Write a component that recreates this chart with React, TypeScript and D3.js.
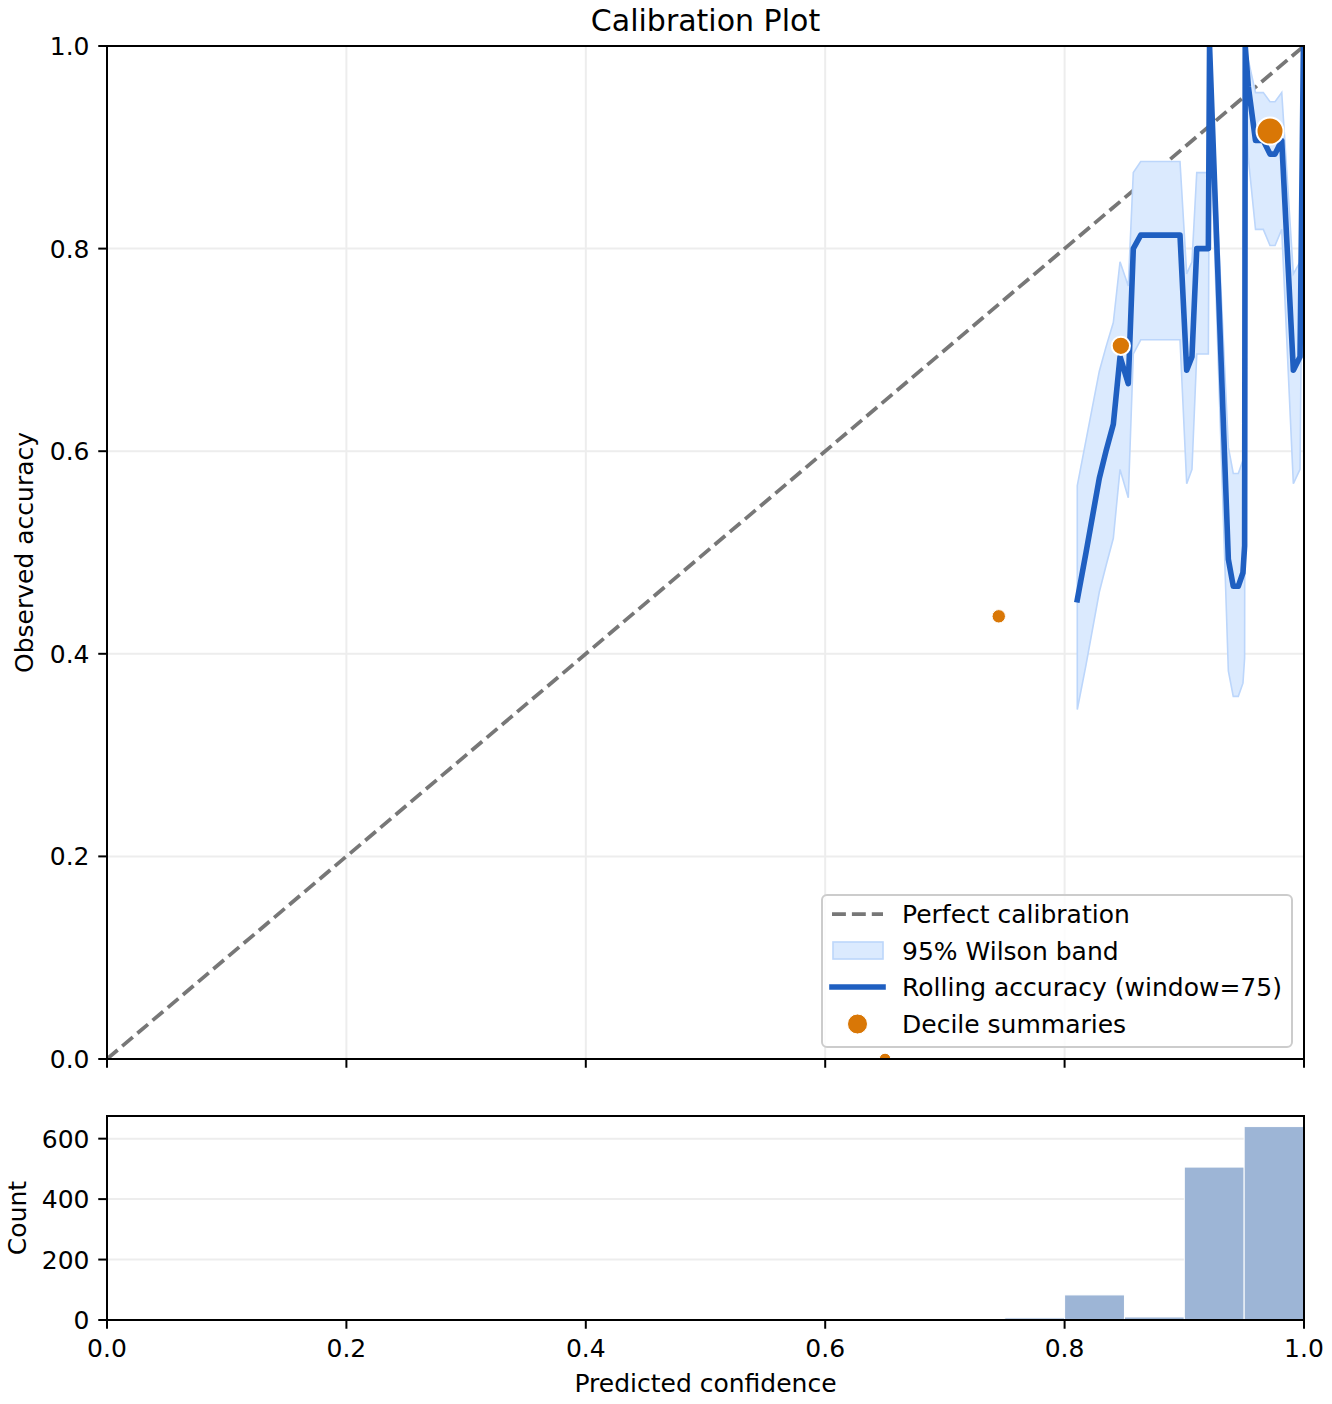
import React from "react";
import * as d3 from "d3";

// ---- data ----
const rollX = [0.8106, 0.8179, 0.829, 0.8346, 0.8407, 0.8463, 0.8532, 0.8574, 0.8636, 0.8964, 0.902, 0.9064, 0.9104, 0.9201, 0.9211, 0.9368, 0.9409, 0.9451, 0.949, 0.9504, 0.9509, 0.9535, 0.9595, 0.966, 0.9716, 0.9758, 0.9814, 0.9911, 0.9967, 0.9995];
const rollAcc = [0.4533, 0.5, 0.5733, 0.6, 0.6267, 0.6933, 0.6667, 0.8, 0.8133, 0.8133, 0.68, 0.6933, 0.8, 0.8, 1.0, 0.4933, 0.4667, 0.4667, 0.48, 0.5067, 1.0, 0.96, 0.9067, 0.9067, 0.8933, 0.8933, 0.9067, 0.68, 0.6933, 1.0];
const rollLo = [0.345, 0.389, 0.461, 0.487, 0.514, 0.582, 0.554, 0.696, 0.71, 0.71, 0.568, 0.582, 0.696, 0.696, 0.951, 0.383, 0.358, 0.358, 0.371, 0.396, 0.951, 0.889, 0.819, 0.819, 0.803, 0.803, 0.819, 0.568, 0.582, 0.951];
const rollHi = [0.566, 0.611, 0.679, 0.703, 0.727, 0.787, 0.763, 0.875, 0.886, 0.886, 0.775, 0.787, 0.875, 0.875, 1.0, 0.604, 0.578, 0.578, 0.591, 0.617, 1.0, 0.986, 0.954, 0.954, 0.945, 0.945, 0.954, 0.775, 0.787, 1.0];

const decileX = [0.65, 0.745, 0.847, 0.9716];
const decileAcc = [0.0, 0.437, 0.704, 0.916];
const decileCount = [1, 6, 92, 1146];

const histEdges = d3.range(0, 21).map((i) => i * 0.05);
const histCounts = [0, 0, 0, 0, 0, 0, 0, 0, 0, 0, 0, 0, 0, 0, 0, 7, 83, 10, 506, 640];

const mainTicks = [0, 0.2, 0.4, 0.6, 0.8, 1.0];
const histYTicks = [0, 200, 400, 600];

const legendLabels = ["Perfect calibration", "95% Wilson band", "Rolling accuracy (window=75)", "Decile summaries"];

// ---- layout ----
const W = 1332, H = 1404;
const L = 107, R = 1304, T = 46, B = 1059;
const HT = 1116, HB = 1320;
const FONT = "DejaVu Sans, sans-serif";
const FS = 25;

const LINE_BLUE = "#1f5fc1";
const BAND_FILL = "#dbeafe";
const BAND_EDGE = "#bcd6fb";
const ORANGE = "#d97706";
const BAR = "#9db5d6";
const GRID = "#ededed";

export default function App() {
  const x = d3.scaleLinear().domain([0, 1]).range([L, R]);
  const y = d3.scaleLinear().domain([0, 1]).range([B, T]);
  const yh = d3.scaleLinear().domain([0, 675]).range([HB, HT]);
  const rScale = d3.scalePow().exponent(0.25).domain([0, 1146]).range([4.2, 13.5]);

  const roll = rollX.map((v, i) => ({ x: v, a: rollAcc[i], lo: rollLo[i], hi: rollHi[i] }));
  const area = d3.area<any>().x((d) => x(d.x)).y0((d) => y(d.lo)).y1((d) => y(d.hi));
  const line = d3.line<any>().x((d) => x(d.x)).y((d) => y(d.a));

  const bars = histCounts.map((c, i) => ({ x0: histEdges[i], x1: histEdges[i + 1], c }));

  const tickLen = 8.75;
  const pad = 8.75;

  const legX = 822, legY = 895, legW = 470, legH = 152;
  const rowY = [914, 950.5, 987, 1024];

  return (
    <div style={{ position: "absolute", left: 0, top: 0 }}>
      <svg width={W} height={H} style={{ display: "block", background: "#fff" }} fontFamily={FONT}>
        <defs>
          <clipPath id="mainClip">
            <rect x={L} y={T} width={R - L} height={B - T} />
          </clipPath>
          <clipPath id="histClip">
            <rect x={L} y={HT} width={R - L} height={HB - HT} />
          </clipPath>
        </defs>
        <rect x={0} y={0} width={W} height={H} fill="#fff" />

        {/* Title */}
        <text x={(L + R) / 2} y={31} textAnchor="middle" fontSize={30} fill="#000">Calibration Plot</text>

        {/* main grid */}
        <g>
          {mainTicks.map((t) => (
            <line key={"gx" + t} x1={x(t)} x2={x(t)} y1={T} y2={B} stroke={GRID} strokeWidth={2} />
          ))}
          {mainTicks.map((t) => (
            <line key={"gy" + t} x1={L} x2={R} y1={y(t)} y2={y(t)} stroke={GRID} strokeWidth={2} />
          ))}
        </g>

        <g clipPath="url(#mainClip)">
          {/* perfect calibration */}
          <line x1={x(0)} y1={y(0)} x2={x(1)} y2={y(1)} stroke="#777777" strokeWidth={3.75} strokeDasharray="13.9 6" />
          {/* Wilson band */}
          <path d={area(roll) || ""} fill={BAND_FILL} stroke={BAND_EDGE} strokeWidth={1.6} />
          {/* rolling accuracy */}
          <path d={line(roll) || ""} fill="none" stroke={LINE_BLUE} strokeWidth={5.6} strokeLinejoin="round" strokeLinecap="square" />
          {/* decile points */}
          {decileX.map((v, i) => (
            <circle key={"d" + i} cx={x(v)} cy={y(decileAcc[i])} r={rScale(decileCount[i])} fill={ORANGE} stroke="#fff" strokeWidth={i >= 2 ? 2 : 1} />
          ))}
        </g>

        {/* main axes frame */}
        <rect x={L} y={T} width={R - L} height={B - T} fill="none" stroke="#000" strokeWidth={2} />
        {/* main ticks */}
        {mainTicks.map((t) => (
          <g key={"mt" + t}>
            <line x1={x(t)} x2={x(t)} y1={B} y2={B + tickLen} stroke="#000" strokeWidth={2} />
            <line x1={L - tickLen} x2={L} y1={y(t)} y2={y(t)} stroke="#000" strokeWidth={2} />
            <text x={L - tickLen - pad} y={y(t)} dy="0.36em" textAnchor="end" fontSize={FS}>{t.toFixed(1)}</text>
          </g>
        ))}
        <text transform={`translate(${33},${(T + B) / 2}) rotate(-90)`} textAnchor="middle" fontSize={FS}>Observed accuracy</text>

        {/* legend */}
        <g>
          <rect x={legX} y={legY} width={legW} height={legH} rx={5} fill="#fff" fillOpacity={0.8} stroke="#cccccc" strokeWidth={2} />
          <line x1={832} x2={883} y1={rowY[0]} y2={rowY[0]} stroke="#777777" strokeWidth={3.75} strokeDasharray="13.9 6" />
          <rect x={833} y={rowY[1] - 8.5} width={50} height={17} fill={BAND_FILL} stroke={BAND_EDGE} strokeWidth={1.6} />
          <line x1={832} x2={883} y1={rowY[2]} y2={rowY[2]} stroke={LINE_BLUE} strokeWidth={5.6} strokeLinecap="square" />
          <circle cx={857.5} cy={rowY[3]} r={10} fill={ORANGE} stroke="#fff" strokeWidth={1} />
          {legendLabels.map((s, i) => (
            <text key={s} x={902} y={rowY[i]} dy="0.36em" fontSize={FS}>{s}</text>
          ))}
        </g>

        {/* histogram */}
        {histYTicks.map((t) => (
          <line key={"hg" + t} x1={L} x2={R} y1={yh(t)} y2={yh(t)} stroke={GRID} strokeWidth={2} />
        ))}
        <g clipPath="url(#histClip)">
          {bars.filter((b) => b.c > 0).map((b, i) => (
            <rect key={"b" + i} x={x(b.x0)} y={yh(b.c)} width={x(b.x1) - x(b.x0)} height={yh(0) - yh(b.c)} fill={BAR} stroke="#fff" strokeWidth={1} />
          ))}
        </g>
        <rect x={L} y={HT} width={R - L} height={HB - HT} fill="none" stroke="#000" strokeWidth={2} />
        {histYTicks.map((t) => (
          <g key={"ht" + t}>
            <line x1={L - tickLen} x2={L} y1={yh(t)} y2={yh(t)} stroke="#000" strokeWidth={2} />
            <text x={L - tickLen - pad} y={yh(t)} dy="0.36em" textAnchor="end" fontSize={FS}>{t}</text>
          </g>
        ))}
        {mainTicks.map((t) => (
          <g key={"hx" + t}>
            <line x1={x(t)} x2={x(t)} y1={HB} y2={HB + tickLen} stroke="#000" strokeWidth={2} />
            <text x={x(t)} y={HB + tickLen + pad} dy="0.76em" textAnchor="middle" fontSize={FS}>{t.toFixed(1)}</text>
          </g>
        ))}
        <text transform={`translate(${26},${(HT + HB) / 2}) rotate(-90)`} textAnchor="middle" fontSize={FS}>Count</text>
        <text x={(L + R) / 2} y={1392} textAnchor="middle" fontSize={FS}>Predicted confidence</text>
      </svg>
    </div>
  );
}
